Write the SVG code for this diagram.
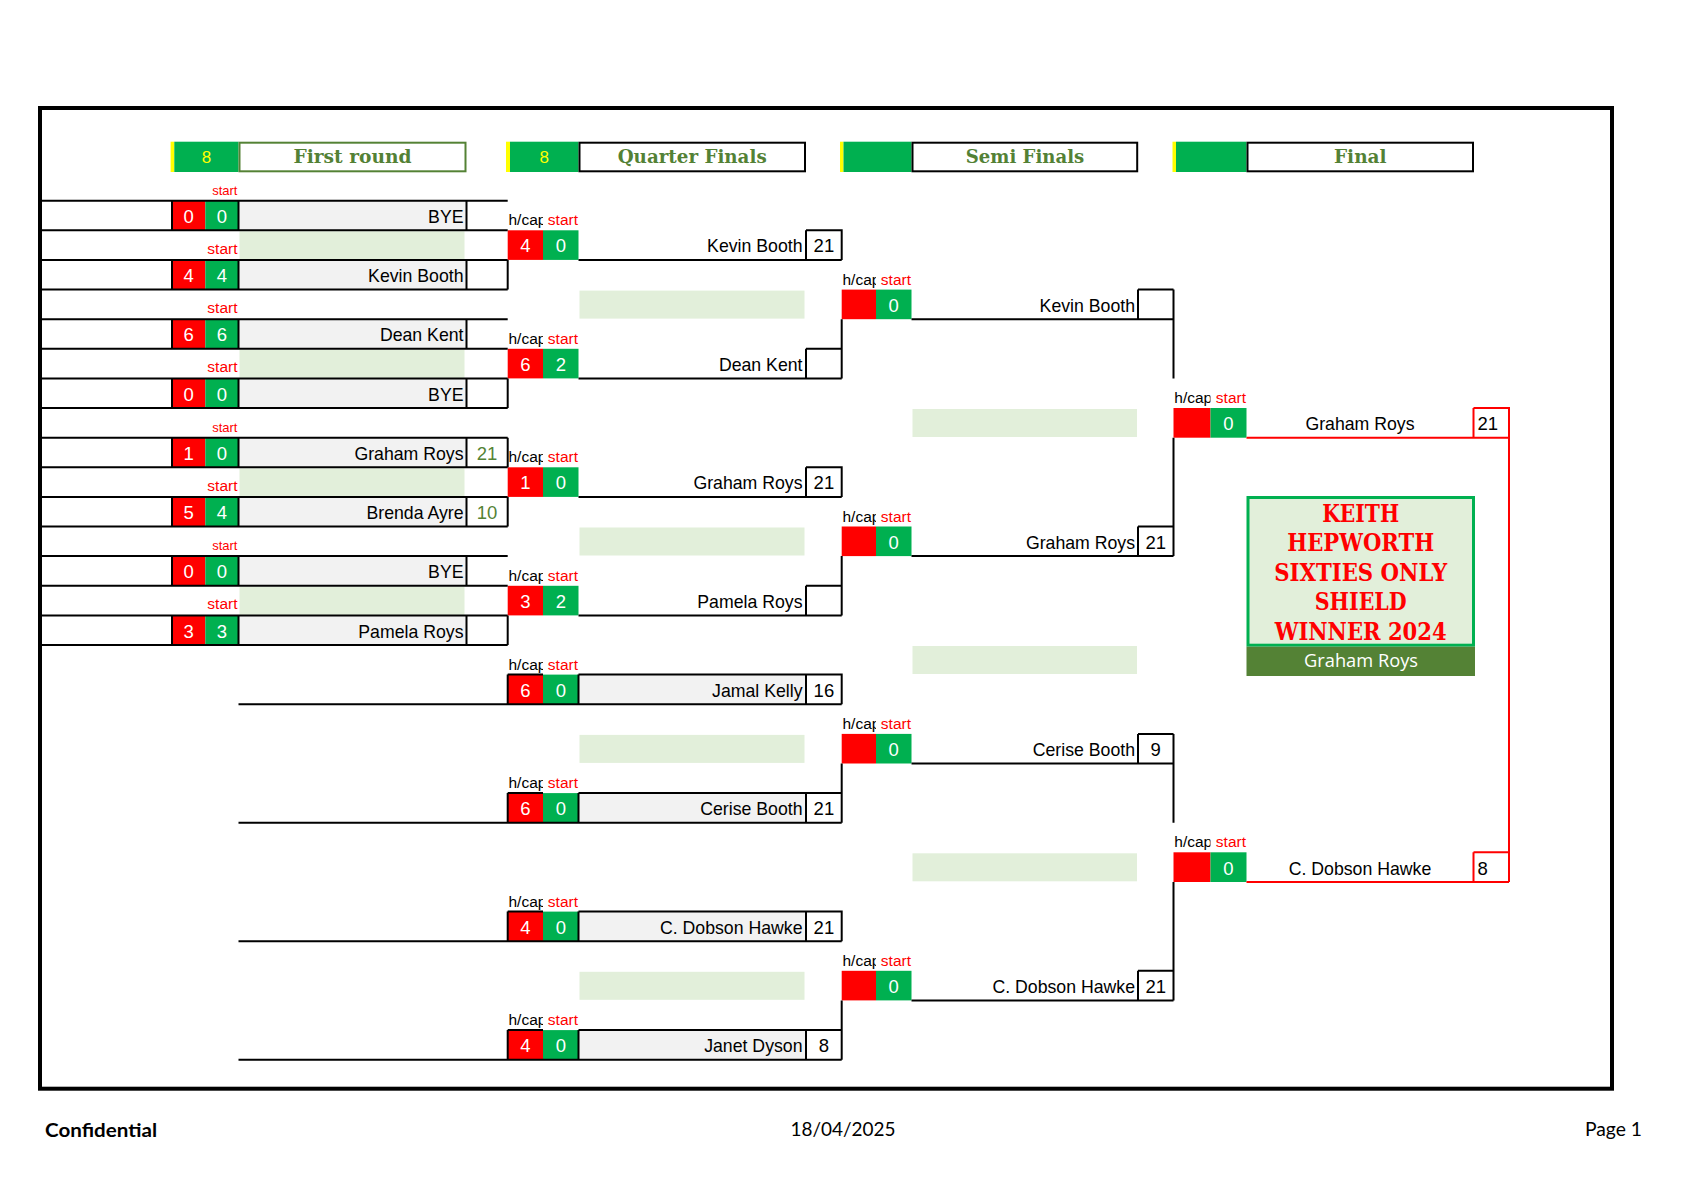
<svg xmlns="http://www.w3.org/2000/svg" width="1684" height="1190" viewBox="0 0 1684 1190">
<defs>
<style>
.ln{stroke:#000;stroke-width:2;fill:none}
.rl{stroke:#FF0000;stroke-width:2;fill:none}
.red{fill:#FF0000}
.grn{fill:#00B050}
.gry{fill:#F2F2F2}
.lg{fill:#E2EFDA}
.yel{fill:#FFFF00}
.num{font-family:"Liberation Sans",Arial,sans-serif;font-size:18.5px;fill:#FFFFFF;text-anchor:middle}
.nm{font-family:"Liberation Sans",Arial,sans-serif;font-size:17.7px;fill:#000;text-anchor:end}
.nmc{font-family:"Liberation Sans",Arial,sans-serif;font-size:17.7px;fill:#000;text-anchor:middle}
.sc{font-family:"Liberation Sans",Arial,sans-serif;font-size:18.5px;fill:#000;text-anchor:middle}
.scg{font-family:"Liberation Sans",Arial,sans-serif;font-size:18.5px;fill:#548235;text-anchor:middle}
.scl{font-family:"Liberation Sans",Arial,sans-serif;font-size:18.5px;fill:#000}
.hc{font-family:"Liberation Sans",Arial,sans-serif;font-size:15.5px;fill:#000}
.st{font-family:"Liberation Sans",Arial,sans-serif;font-size:15.5px;fill:#FF0000;text-anchor:end}
.sts{font-family:"Liberation Sans",Arial,sans-serif;font-size:13px;fill:#FF0000;text-anchor:end}
.hd{font-family:"DejaVu Serif","Liberation Serif",serif;font-weight:bold;font-size:19px;fill:#538135;text-anchor:middle}
.eight{font-family:"Liberation Sans",Arial,sans-serif;font-size:17px;fill:#FFFF00;text-anchor:middle}
.sh{font-family:"DejaVu Serif","Liberation Serif",serif;font-weight:bold;font-size:24px;fill:#FF0000;text-anchor:middle}
.ft{font-family:Lato,"Open Sans",sans-serif;font-size:19.5px;fill:#000}
</style>
<clipPath id="hcClip">
<rect x="507.7" y="0" width="35.3" height="1190"/>
<rect x="841.7" y="0" width="34.3" height="1190"/>
<rect x="1173.5" y="0" width="37" height="1190"/>
</clipPath>
</defs>
<rect x="0" y="0" width="1684" height="1190" fill="#FFFFFF"/>
<rect id="frame" x="40" y="108" width="1572" height="980.7" fill="none" stroke="#000" stroke-width="4"/>

<g id="headers">
<rect class="yel" x="170.6" y="141.7" width="3.7" height="30.3"/>
<rect class="grn" x="174.3" y="141.7" width="64.2" height="30.3"/>
<text class="eight" x="206.4" y="163">8</text>
<rect x="239.5" y="142.7" width="226" height="28.6" fill="#FFFFFF" stroke="#548235" stroke-width="2"/>
<text class="hd" x="352.5" y="163" textLength="118" lengthAdjust="spacingAndGlyphs">First round</text>
<rect class="yel" x="506" y="141.7" width="4" height="30.3"/>
<rect class="grn" x="510" y="141.7" width="68.5" height="30.3"/>
<text class="eight" x="544.2" y="163">8</text>
<rect x="579.5" y="142.7" width="225.5" height="28.6" fill="#FFFFFF" stroke="#000" stroke-width="2"/>
<text class="hd" x="692.2" y="163" textLength="149" lengthAdjust="spacingAndGlyphs">Quarter Finals</text>
<rect class="yel" x="840" y="141.7" width="3.5" height="30.3"/>
<rect class="grn" x="843.5" y="141.7" width="68" height="30.3"/>
<rect x="912.5" y="142.7" width="224.7" height="28.6" fill="#FFFFFF" stroke="#000" stroke-width="2"/>
<text class="hd" x="1025" y="163" textLength="118.5" lengthAdjust="spacingAndGlyphs">Semi Finals</text>
<rect class="yel" x="1172.5" y="141.7" width="3.5" height="30.3"/>
<rect class="grn" x="1176" y="141.7" width="70.5" height="30.3"/>
<rect x="1247.5" y="142.7" width="225.5" height="28.6" fill="#FFFFFF" stroke="#000" stroke-width="2"/>
<text class="hd" x="1360.3" y="163" textLength="52.6" lengthAdjust="spacingAndGlyphs">Final</text>
</g>

<g id="fills">
<rect class="lg" x="239.5" y="231.3" width="225" height="28"/>
<rect class="lg" x="239.5" y="349.8" width="225" height="28"/>
<rect class="lg" x="239.5" y="468.3" width="225" height="28"/>
<rect class="lg" x="239.5" y="586.8" width="225" height="28"/>
<rect class="lg" x="579.5" y="290.6" width="225" height="28"/>
<rect class="lg" x="579.5" y="527.5" width="225" height="28"/>
<rect class="lg" x="579.5" y="734.9" width="225" height="28"/>
<rect class="lg" x="579.5" y="971.8" width="225" height="28"/>
<rect class="lg" x="912.5" y="409" width="224.5" height="28"/>
<rect class="lg" x="912.5" y="646" width="224.5" height="28"/>
<rect class="lg" x="912.5" y="853.3" width="224.5" height="28"/>
</g>

<g id="start-labels">
<text class="sts" x="237.5" y="194.7">start</text>
<text class="st" x="237.5" y="253.9">start</text>
<text class="st" x="237.5" y="313.2">start</text>
<text class="st" x="237.5" y="372.4">start</text>
<text class="sts" x="237.5" y="431.7">start</text>
<text class="st" x="237.5" y="490.9">start</text>
<text class="sts" x="237.5" y="550.1">start</text>
<text class="st" x="237.5" y="609.4">start</text>
<text class="st" x="578" y="225.3">start</text>
<text class="st" x="578" y="343.8">start</text>
<text class="st" x="578" y="462.3">start</text>
<text class="st" x="578" y="580.8">start</text>
<text class="st" x="578" y="669.6">start</text>
<text class="st" x="578" y="788.1">start</text>
<text class="st" x="578" y="906.6">start</text>
<text class="st" x="578" y="1025.1">start</text>
<text class="st" x="911" y="284.6">start</text>
<text class="st" x="911" y="521.5">start</text>
<text class="st" x="911" y="728.9">start</text>
<text class="st" x="911" y="965.8">start</text>
<text class="st" x="1246" y="403">start</text>
<text class="st" x="1246" y="847.3">start</text>
</g>
<g id="hcap-labels" clip-path="url(#hcClip)">
<text class="hc" x="508.5" y="225.3">h/cap</text>
<text class="hc" x="508.5" y="343.8">h/cap</text>
<text class="hc" x="508.5" y="462.3">h/cap</text>
<text class="hc" x="508.5" y="580.8">h/cap</text>
<text class="hc" x="508.5" y="669.6">h/cap</text>
<text class="hc" x="508.5" y="788.1">h/cap</text>
<text class="hc" x="508.5" y="906.6">h/cap</text>
<text class="hc" x="508.5" y="1025.1">h/cap</text>
<text class="hc" x="842.5" y="284.6">h/cap</text>
<text class="hc" x="842.5" y="521.5">h/cap</text>
<text class="hc" x="842.5" y="728.9">h/cap</text>
<text class="hc" x="842.5" y="965.8">h/cap</text>
<text class="hc" x="1174.3" y="403">h/cap</text>
<text class="hc" x="1174.3" y="847.3">h/cap</text>
</g>

<g id="r1-p1"><rect class="red" x="172" y="200.7" width="33.3" height="29.6"/><rect class="grn" x="205.3" y="200.7" width="33.2" height="29.6"/><rect class="gry" x="238.5" y="200.7" width="228" height="29.6"/><text class="num" x="188.6" y="222.8">0</text><text class="num" x="221.9" y="222.8">0</text><text class="nm" x="463.5" y="222.8">BYE</text></g>
<g id="r1-p2"><rect class="red" x="172" y="259.9" width="33.3" height="29.6"/><rect class="grn" x="205.3" y="259.9" width="33.2" height="29.6"/><rect class="gry" x="238.5" y="259.9" width="228" height="29.6"/><text class="num" x="188.6" y="282.1">4</text><text class="num" x="221.9" y="282.1">4</text><text class="nm" x="463.5" y="282.1">Kevin Booth</text></g>
<g id="r1-p3"><rect class="red" x="172" y="319.2" width="33.3" height="29.6"/><rect class="grn" x="205.3" y="319.2" width="33.2" height="29.6"/><rect class="gry" x="238.5" y="319.2" width="228" height="29.6"/><text class="num" x="188.6" y="341.3">6</text><text class="num" x="221.9" y="341.3">6</text><text class="nm" x="463.5" y="341.3">Dean Kent</text></g>
<g id="r1-p4"><rect class="red" x="172" y="378.4" width="33.3" height="29.6"/><rect class="grn" x="205.3" y="378.4" width="33.2" height="29.6"/><rect class="gry" x="238.5" y="378.4" width="228" height="29.6"/><text class="num" x="188.6" y="400.5">0</text><text class="num" x="221.9" y="400.5">0</text><text class="nm" x="463.5" y="400.5">BYE</text></g>
<g id="r1-p5"><rect class="red" x="172" y="437.7" width="33.3" height="29.6"/><rect class="grn" x="205.3" y="437.7" width="33.2" height="29.6"/><rect class="gry" x="238.5" y="437.7" width="228" height="29.6"/><text class="num" x="188.6" y="459.8">1</text><text class="num" x="221.9" y="459.8">0</text><text class="nm" x="463.5" y="459.8">Graham Roys</text><text class="scg" x="487.1" y="459.8">21</text></g>
<g id="r1-p6"><rect class="red" x="172" y="496.9" width="33.3" height="29.6"/><rect class="grn" x="205.3" y="496.9" width="33.2" height="29.6"/><rect class="gry" x="238.5" y="496.9" width="228" height="29.6"/><text class="num" x="188.6" y="519">5</text><text class="num" x="221.9" y="519">4</text><text class="nm" x="463.5" y="519">Brenda Ayre</text><text class="scg" x="487.1" y="519">10</text></g>
<g id="r1-p7"><rect class="red" x="172" y="556.1" width="33.3" height="29.6"/><rect class="grn" x="205.3" y="556.1" width="33.2" height="29.6"/><rect class="gry" x="238.5" y="556.1" width="228" height="29.6"/><text class="num" x="188.6" y="578.3">0</text><text class="num" x="221.9" y="578.3">0</text><text class="nm" x="463.5" y="578.3">BYE</text></g>
<g id="r1-p8"><rect class="red" x="172" y="615.4" width="33.3" height="29.6"/><rect class="grn" x="205.3" y="615.4" width="33.2" height="29.6"/><rect class="gry" x="238.5" y="615.4" width="228" height="29.6"/><text class="num" x="188.6" y="637.5">3</text><text class="num" x="221.9" y="637.5">3</text><text class="nm" x="463.5" y="637.5">Pamela Roys</text></g>

<g id="qf-1"><rect class="red" x="507.7" y="230.3" width="35.3" height="29.6"/><rect class="grn" x="543" y="230.3" width="35.5" height="29.6"/><text class="num" x="525.4" y="252.4">4</text><text class="num" x="560.8" y="252.4">0</text><text class="nm" x="802.5" y="252.4">Kevin Booth</text><text class="sc" x="823.9" y="252.4">21</text></g>
<g id="qf-2"><rect class="red" x="507.7" y="348.8" width="35.3" height="29.6"/><rect class="grn" x="543" y="348.8" width="35.5" height="29.6"/><text class="num" x="525.4" y="370.9">6</text><text class="num" x="560.8" y="370.9">2</text><text class="nm" x="802.5" y="370.9">Dean Kent</text></g>
<g id="qf-3"><rect class="red" x="507.7" y="467.3" width="35.3" height="29.6"/><rect class="grn" x="543" y="467.3" width="35.5" height="29.6"/><text class="num" x="525.4" y="489.4">1</text><text class="num" x="560.8" y="489.4">0</text><text class="nm" x="802.5" y="489.4">Graham Roys</text><text class="sc" x="823.9" y="489.4">21</text></g>
<g id="qf-4"><rect class="red" x="507.7" y="585.8" width="35.3" height="29.6"/><rect class="grn" x="543" y="585.8" width="35.5" height="29.6"/><text class="num" x="525.4" y="607.9">3</text><text class="num" x="560.8" y="607.9">2</text><text class="nm" x="802.5" y="607.9">Pamela Roys</text></g>
<g id="qf-5"><rect class="red" x="507.7" y="674.6" width="35.3" height="29.6"/><rect class="grn" x="543" y="674.6" width="35.5" height="29.6"/><rect class="gry" x="578.5" y="674.6" width="227.5" height="29.6"/><text class="num" x="525.4" y="696.7">6</text><text class="num" x="560.8" y="696.7">0</text><text class="nm" x="802.5" y="696.7">Jamal Kelly</text><text class="sc" x="823.9" y="696.7">16</text></g>
<g id="qf-6"><rect class="red" x="507.7" y="793.1" width="35.3" height="29.6"/><rect class="grn" x="543" y="793.1" width="35.5" height="29.6"/><rect class="gry" x="578.5" y="793.1" width="227.5" height="29.6"/><text class="num" x="525.4" y="815.2">6</text><text class="num" x="560.8" y="815.2">0</text><text class="nm" x="802.5" y="815.2">Cerise Booth</text><text class="sc" x="823.9" y="815.2">21</text></g>
<g id="qf-7"><rect class="red" x="507.7" y="911.6" width="35.3" height="29.6"/><rect class="grn" x="543" y="911.6" width="35.5" height="29.6"/><rect class="gry" x="578.5" y="911.6" width="227.5" height="29.6"/><text class="num" x="525.4" y="933.7">4</text><text class="num" x="560.8" y="933.7">0</text><text class="nm" x="802.5" y="933.7">C. Dobson Hawke</text><text class="sc" x="823.9" y="933.7">21</text></g>
<g id="qf-8"><rect class="red" x="507.7" y="1030.1" width="35.3" height="29.6"/><rect class="grn" x="543" y="1030.1" width="35.5" height="29.6"/><rect class="gry" x="578.5" y="1030.1" width="227.5" height="29.6"/><text class="num" x="525.4" y="1052.2">4</text><text class="num" x="560.8" y="1052.2">0</text><text class="nm" x="802.5" y="1052.2">Janet Dyson</text><text class="sc" x="823.9" y="1052.2">8</text></g>

<g id="sf-1"><rect class="red" x="841.7" y="289.6" width="34.3" height="29.6"/><rect class="grn" x="876" y="289.6" width="35.5" height="29.6"/><text class="num" x="893.7" y="311.7">0</text><text class="nm" x="1135" y="311.7">Kevin Booth</text></g>
<g id="sf-2"><rect class="red" x="841.7" y="526.5" width="34.3" height="29.6"/><rect class="grn" x="876" y="526.5" width="35.5" height="29.6"/><text class="num" x="893.7" y="548.6">0</text><text class="nm" x="1135" y="548.6">Graham Roys</text><text class="sc" x="1155.7" y="548.6">21</text></g>
<g id="sf-3"><rect class="red" x="841.7" y="733.9" width="34.3" height="29.6"/><rect class="grn" x="876" y="733.9" width="35.5" height="29.6"/><text class="num" x="893.7" y="756">0</text><text class="nm" x="1135" y="756">Cerise Booth</text><text class="sc" x="1155.7" y="756">9</text></g>
<g id="sf-4"><rect class="red" x="841.7" y="970.8" width="34.3" height="29.6"/><rect class="grn" x="876" y="970.8" width="35.5" height="29.6"/><text class="num" x="893.7" y="992.9">0</text><text class="nm" x="1135" y="992.9">C. Dobson Hawke</text><text class="sc" x="1155.7" y="992.9">21</text></g>

<g id="final-1"><rect class="red" x="1173.5" y="408" width="37" height="29.7"/><rect class="grn" x="1210.5" y="408" width="36" height="29.7"/><text class="num" x="1228.5" y="430.2">0</text><text class="nmc" x="1360" y="430.2">Graham Roys</text><text class="scl" x="1477.5" y="430.2">21</text></g>
<g id="final-2"><rect class="red" x="1173.5" y="852.3" width="37" height="29.7"/><rect class="grn" x="1210.5" y="852.3" width="36" height="29.7"/><text class="num" x="1228.5" y="874.5">0</text><text class="nmc" x="1360" y="874.5">C. Dobson Hawke</text><text class="scl" x="1477.5" y="874.5">8</text></g>

<g id="connectors">
<path class="ln" d="M42 200.7H507.7M42 230.3H507.7M42 259.9H507.7M42 289.6H507.7M42 319.2H507.7M42 348.8H507.7M42 378.4H507.7M42 408H507.7M42 437.7H507.7M42 467.3H507.7M42 496.9H507.7M42 526.5H507.7M42 556.1H507.7M42 585.8H507.7M42 615.4H507.7M42 645H507.7"/>
<path class="ln" d="M172 200.7V230.3M238.5 200.7V230.3M466.5 200.7V230.3M172 259.9V289.6M238.5 259.9V289.6M466.5 259.9V289.6M172 319.2V348.8M238.5 319.2V348.8M466.5 319.2V348.8M172 378.4V408M238.5 378.4V408M466.5 378.4V408M172 437.7V467.3M238.5 437.7V467.3M466.5 437.7V467.3M172 496.9V526.5M238.5 496.9V526.5M466.5 496.9V526.5M172 556.1V585.8M238.5 556.1V585.8M466.5 556.1V585.8M172 615.4V645M238.5 615.4V645M466.5 615.4V645"/>
<path class="ln" d="M507.7 259.9V289.6M507.7 378.4V408M507.7 437.7V467.3M507.7 496.9V526.5M507.7 615.4V645"/>
<path class="ln" d="M578.5 259.9H841.7M806 230.3H841.7V259.9M806 230.3V259.9"/>
<path class="ln" d="M578.5 378.4H841.7M806 348.8H841.7M806 348.8V378.4M841.7 319.2V378.4"/>
<path class="ln" d="M578.5 496.9H841.7M806 467.3H841.7V496.9M806 467.3V496.9"/>
<path class="ln" d="M578.5 615.4H841.7M806 585.8H841.7M806 585.8V615.4M841.7 556.1V615.4"/>
<path class="ln" d="M238.5 704.2H841.7M507.7 674.6V704.2M507.7 674.6H543M578.5 674.6H841.7V704.2M578.5 674.6V704.2M806 674.6V704.2"/>
<path class="ln" d="M238.5 822.7H841.7M507.7 793.1V822.7M507.7 793.1H543M578.5 793.1H841.7M578.5 793.1V822.7M806 793.1V822.7M841.7 763.5V822.7"/>
<path class="ln" d="M238.5 941.2H841.7M507.7 911.6V941.2M507.7 911.6H543M578.5 911.6H841.7V941.2M578.5 911.6V941.2M806 911.6V941.2"/>
<path class="ln" d="M238.5 1059.7H841.7M507.7 1030.1V1059.7M507.7 1030.1H543M578.5 1030.1H841.7M578.5 1030.1V1059.7M806 1030.1V1059.7M841.7 1000.4V1059.7"/>
<path class="ln" d="M911.5 319.2H1173.5M1138 289.6H1173.5M1138 289.6V319.2M1173.5 289.6V378.4"/>
<path class="ln" d="M911.5 556.1H1173.5M1138 526.5H1173.5M1138 526.5V556.1M1173.5 437.7V556.1"/>
<path class="ln" d="M911.5 763.5H1173.5M1138 733.9H1173.5M1138 733.9V763.5M1173.5 733.9V822.7"/>
<path class="ln" d="M911.5 1000.4H1173.5M1138 970.8H1173.5M1138 970.8V1000.4M1173.5 882V1000.4"/>
<path class="rl" d="M1246.5 437.7H1509M1473.5 408H1509V882M1473.5 408V437.7"/>
<path class="rl" d="M1246.5 882H1509M1473.5 852.3H1509M1473.5 852.3V882"/>
</g>

<g id="shield">
<rect x="1248" y="497.5" width="225.5" height="147.7" fill="#E2EFDA" stroke="#00B050" stroke-width="3"/>
<text class="sh" x="1360.7" y="521.5" textLength="77" lengthAdjust="spacingAndGlyphs">KEITH</text>
<text class="sh" x="1360.7" y="551.1" textLength="147" lengthAdjust="spacingAndGlyphs">HEPWORTH</text>
<text class="sh" x="1360.7" y="580.8" textLength="173" lengthAdjust="spacingAndGlyphs">SIXTIES ONLY</text>
<text class="sh" x="1360.7" y="610.4" textLength="92" lengthAdjust="spacingAndGlyphs">SHIELD</text>
<text class="sh" x="1360.7" y="640" textLength="172" lengthAdjust="spacingAndGlyphs">WINNER 2024</text>
<rect x="1246.5" y="646.7" width="228.5" height="29.3" fill="#548235"/>
<text x="1361" y="667" font-family="'Open Sans',Lato,sans-serif" font-size="19px" fill="#FFFFFF" text-anchor="middle" textLength="114" lengthAdjust="spacingAndGlyphs">Graham Roys</text>
</g>

<g id="footer">
<text class="ft" x="45" y="1137" font-weight="bold" textLength="112" lengthAdjust="spacingAndGlyphs">Confidential</text>
<text class="ft" x="843" y="1136" text-anchor="middle" textLength="105" lengthAdjust="spacingAndGlyphs">18/04/2025</text>
<text class="ft" x="1642" y="1136" text-anchor="end" textLength="57" lengthAdjust="spacingAndGlyphs">Page 1</text>
</g>
</svg>
